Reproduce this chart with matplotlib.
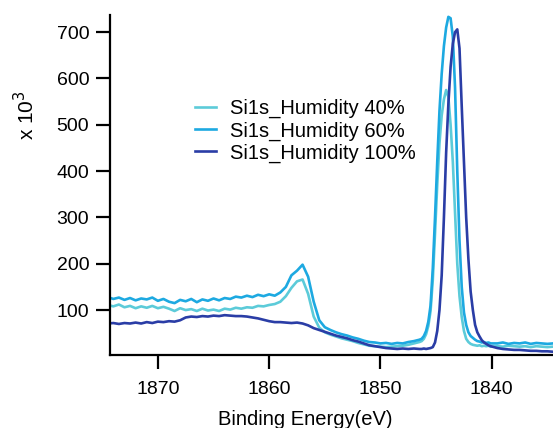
import numpy as np
import matplotlib
matplotlib.use("Agg")
import matplotlib.pyplot as plt

plt.rcParams['font.family'] = ['Liberation Sans', 'DejaVu Sans']

# Binding energy grid (eV): coarse wings, fine around the main peak
energy = np.concatenate([
    np.arange(1874.5, 1846.4, -0.5),
    np.arange(1846.3, 1840.0, -0.2),
    np.arange(1839.5, 1834.4, -0.5),
])

# Intensities (x 10^3)
hum40 = [
    111, 108, 112, 106, 109, 104, 108, 105, 109, 104,
    107, 103, 98, 104, 100, 102, 98, 103, 99, 101,
    98, 103, 101, 105, 103, 106, 105, 109, 108, 111,
    113, 118, 130, 148, 162, 166, 135, 86, 62, 52,
    47, 43, 39, 36, 33, 29, 26, 23, 22, 21,
    20, 21, 22, 23, 25, 28, 31,
    33, 38, 48, 66, 98, 165, 265, 370, 460, 520,
    555, 575, 560, 500, 420, 310, 200, 130, 85, 55,
    38, 31, 27, 25, 24, 23, 24, 22, 23, 22,
    23, 21,
    22, 21, 23, 22, 21, 22, 20, 22, 21, 20, 21,
]
hum60 = [
    128, 124, 127, 122, 126, 121, 125, 123, 127, 120,
    124, 118, 115, 122, 119, 124, 117, 123, 120, 125,
    121, 126, 124, 129, 127, 131, 128, 133, 130, 134,
    131, 138, 150, 175, 185, 198, 172, 118, 78, 63,
    57, 52, 48, 45, 41, 38, 34, 31, 30, 28,
    29, 27, 29, 28, 31, 33, 36,
    38, 44, 55, 75, 110, 190, 300, 420, 530, 610,
    670, 710, 733, 730, 690, 580, 400, 250, 150, 95,
    68, 52, 44, 40, 36, 33, 32, 30, 31, 29,
    30, 28,
    28, 30, 27, 29, 28, 30, 27, 29, 28, 27, 28,
]
hum100 = [
    71, 72, 70, 72, 71, 73, 71, 74, 72, 75,
    74, 76, 75, 78, 84, 86, 85, 87, 86, 88,
    87, 89, 88, 87, 87, 86, 84, 82, 79, 76,
    74, 74, 73, 72, 73, 71, 67, 61, 57, 53,
    49, 45, 42, 39, 35, 32, 28, 24, 22, 20,
    18, 17, 16, 17, 16, 17, 16,
    16, 17, 16, 17, 18, 20, 30, 55, 100, 175,
    300, 440, 545, 625, 675, 700, 706, 665, 540, 420,
    300, 210, 140, 100, 68, 52, 43, 35, 30, 27,
    24, 22,
    18, 16, 15, 14, 14, 13, 12, 12, 11, 11, 10,
]

labels = ["Si1s_Humidity 40%", "Si1s_Humidity 60%", "Si1s_Humidity 100%"]
colors = ["#5ccbd9", "#1da9e1", "#2a3da6"]
yticks = [100, 200, 300, 400, 500, 600, 700]
xticks = [1870, 1860, 1850, 1840]

fig = plt.figure(figsize=(5.53, 4.28), dpi=100)
ax = fig.add_axes([110/553, 1-355/428, 443/553, (355-15)/428])

for y, lab, c in zip([hum40, hum60, hum100], labels, colors):
    ax.plot(energy, y, color=c, lw=1.9, label=lab)

ax.set_xlim(1874.3, 1834.5)
ax.set_ylim(3, 737)
ax.set_yticks(yticks)
ax.set_xticks(xticks)
for s in ['top', 'right']:
    ax.spines[s].set_visible(False)
for s in ['left', 'bottom']:
    ax.spines[s].set_linewidth(1.6)
ax.tick_params(direction='out', length=10, width=1.6, labelsize=14, colors='black')
ax.tick_params(axis='y', pad=5)
ax.tick_params(axis='x', pad=9)

fig.text(0.047, 1-115/428, r"x 10$^3$", rotation=90, ha='center', va='center', fontsize=15)
fig.text(305/553, 1-425/428, "Binding Energy(eV)", ha='center', va='baseline', fontsize=14.5)

ax.legend(loc='upper left', bbox_to_anchor=(195/553, 1-99/428), bbox_transform=fig.transFigure,
          frameon=False, fontsize=14.5, handlelength=1.05, handletextpad=0.7,
          labelspacing=0.15, borderpad=0, borderaxespad=0)

fig.savefig("out.png", dpi=100)
